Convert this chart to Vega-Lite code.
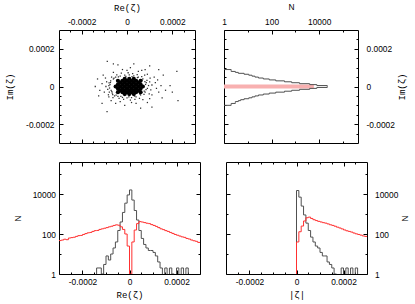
{
"$schema": "https://vega.github.io/schema/vega-lite/v6.json",
"background": "white",
"padding": {"left": 5, "top": 1, "right": 5, "bottom": 2},
"columns": 1,
"align": "none",
"spacing": 17,
"config": {
  "view": {"stroke": "black", "strokeWidth": 1},
  "axis": {"domain": false, "grid": false, "labelFont": "Liberation Sans", "labelFontSize": 8.4, "labelColor": "black", "tickColor": "black", "tickWidth": 1, "titleFont": "Liberation Mono", "titleFontSize": 9, "titleFontWeight": "normal", "titleColor": "black", "labelOverlap": false, "labelFlush": false, "labelBound": false}
},
"datasets": {
  "halo": [
    {"re":-7.5e-5,"im":1e-5},{"re":-7e-5,"im":-2e-5},{"re":-8e-5,"im":0.5e-5},{"re":-7.2e-5,"im":3e-5},{"re":-6.5e-5,"im":-3.5e-5},{"re":-6e-5,"im":4e-5},{"re":-5e-5,"im":5e-5},{"re":-4e-5,"im":-5.2e-5},{"re":-3e-5,"im":5.5e-5},{"re":-2e-5,"im":-5.8e-5},
    {"re":-1e-5,"im":6e-5},{"re":0,"im":-6e-5},{"re":1e-5,"im":6.2e-5},{"re":2e-5,"im":-5.9e-5},{"re":3e-5,"im":5.7e-5},{"re":4e-5,"im":-5.5e-5},{"re":5e-5,"im":5e-5},{"re":6e-5,"im":-4.5e-5},{"re":7e-5,"im":4e-5},{"re":8e-5,"im":-3e-5},
    {"re":8.5e-5,"im":2e-5},{"re":9e-5,"im":-1e-5},{"re":9.5e-5,"im":0.5e-5},{"re":8.8e-5,"im":3.2e-5},{"re":-8.5e-5,"im":-1.5e-5},{"re":-7.8e-5,"im":-3e-5},{"re":-6.8e-5,"im":5e-5},{"re":-5.5e-5,"im":-5e-5},{"re":6.5e-5,"im":5.2e-5},{"re":7.5e-5,"im":-4.2e-5},
    {"re":10e-5,"im":2.5e-5},{"re":10.5e-5,"im":-1.8e-5},{"re":-3.5e-5,"im":-6.3e-5},{"re":2.5e-5,"im":6.8e-5},{"re":-1.5e-5,"im":-6.8e-5},{"re":4.5e-5,"im":6.3e-5},{"re":-9e-5,"im":2.5e-5},{"re":11e-5,"im":0.8e-5},{"re":-4.5e-5,"im":6.2e-5},{"re":3.5e-5,"im":-6.8e-5},
    {"re":-8.2e-5,"im":-4.4e-5},{"re":-6.2e-5,"im":-5.9e-5},{"re":0.5e-5,"im":7.3e-5},{"re":5.5e-5,"im":-6.3e-5},{"re":9.8e-5,"im":-3.9e-5},{"re":-9.3e-5,"im":0},{"re":7.8e-5,"im":6e-5},{"re":-2.5e-5,"im":7.1e-5},{"re":1.5e-5,"im":-7.2e-5},{"re":10.2e-5,"im":4.4e-5},
    {"re":-7.7e-5,"im":-0.8e-5},{"re":-7.3e-5,"im":2.1e-5},{"re":-6.7e-5,"im":-2.7e-5},{"re":-5.7e-5,"im":4.4e-5},{"re":-4.8e-5,"im":-4.6e-5},{"re":-3.8e-5,"im":5.1e-5},{"re":-2.7e-5,"im":-5.3e-5},{"re":-0.5e-5,"im":5.4e-5},{"re":0.8e-5,"im":-5.5e-5},{"re":2.2e-5,"im":5.3e-5},
    {"re":3.4e-5,"im":-5.1e-5},{"re":4.6e-5,"im":4.7e-5},{"re":5.7e-5,"im":-4.1e-5},{"re":6.6e-5,"im":3.4e-5},{"re":7.6e-5,"im":-2.4e-5},{"re":8.2e-5,"im":1.1e-5},{"re":8.4e-5,"im":-1.6e-5},{"re":7.9e-5,"im":2.6e-5},{"re":-6.3e-5,"im":-4.3e-5},{"re":-7.9e-5,"im":1.9e-5},
    {"re":-10e-5,"im":-3e-5},{"re":-11e-5,"im":1.5e-5},{"re":-9.5e-5,"im":4.5e-5},{"re":-8e-5,"im":-5.5e-5},{"re":-6e-5,"im":7.5e-5},{"re":-3e-5,"im":-8e-5},{"re":0,"im":8.5e-5},{"re":2e-5,"im":-8.5e-5},{"re":5e-5,"im":8e-5},{"re":7e-5,"im":-7e-5},
    {"re":9e-5,"im":6.5e-5},{"re":11e-5,"im":-4.5e-5},{"re":12.5e-5,"im":2e-5},{"re":13e-5,"im":-1e-5},{"re":12e-5,"im":5e-5},{"re":10e-5,"im":-6.5e-5},{"re":-12e-5,"im":-2e-5},{"re":-10.5e-5,"im":6e-5},{"re":-7e-5,"im":-7.5e-5},{"re":-2e-5,"im":9e-5},
    {"re":4e-5,"im":-9e-5},{"re":6.5e-5,"im":8.5e-5},{"re":13.5e-5,"im":3.5e-5},{"re":14e-5,"im":-3e-5},{"re":-1e-5,"im":-10e-5},{"re":1.5e-5,"im":10e-5},{"re":8e-5,"im":9e-5},{"re":9e-5,"im":-8.5e-5},{"re":-5e-5,"im":-9e-5},{"re":15e-5,"im":0.5e-5},
    {"re":-13e-5,"im":4e-5},{"re":-12.5e-5,"im":-5e-5},{"re":-8.7e-5,"im":13.4e-5},{"re":-8.8e-5,"im":-13.3e-5},{"re":-4e-5,"im":11.5e-5},{"re":3e-5,"im":12e-5},{"re":10e-5,"im":11e-5},{"re":16e-5,"im":6e-5},{"re":17e-5,"im":-2e-5},{"re":15.5e-5,"im":-6e-5},
    {"re":-14e-5,"im":0},{"re":6e-5,"im":-11.5e-5},{"re":20e-5,"im":-3e-5},{"re":22e-5,"im":8e-5},{"re":22.5e-5,"im":-7.5e-5},{"re":19e-5,"im":0.5e-5},{"re":-11e-5,"im":-9e-5},{"re":11e-5,"im":-11e-5},{"re":14e-5,"im":9e-5},{"re":-6e-5,"im":12e-5}
  ],
  "core": [
    {"re":-5e-5,"im":0},{"re":-3e-5,"im":0},{"re":-1e-5,"im":0},{"re":1e-5,"im":0},{"re":3e-5,"im":0},{"re":5e-5,"im":0},{"re":7e-5,"im":0},
    {"re":-3e-5,"im":2e-5},{"re":-1e-5,"im":2e-5},{"re":1e-5,"im":2e-5},{"re":3e-5,"im":2e-5},{"re":5e-5,"im":2e-5},
    {"re":-3e-5,"im":-2e-5},{"re":-1e-5,"im":-2e-5},{"re":1e-5,"im":-2e-5},{"re":3e-5,"im":-2e-5},{"re":5e-5,"im":-2e-5},
    {"re":-1e-5,"im":4e-5},{"re":1e-5,"im":4e-5},{"re":3e-5,"im":4e-5},{"re":-1e-5,"im":-4e-5},{"re":1e-5,"im":-4e-5},{"re":3e-5,"im":-4e-5},
    {"re":-4e-5,"im":1e-5},{"re":-2e-5,"im":1e-5},{"re":0,"im":1e-5},{"re":2e-5,"im":1e-5},{"re":4e-5,"im":1e-5},{"re":6e-5,"im":1e-5},
    {"re":-4e-5,"im":-1e-5},{"re":-2e-5,"im":-1e-5},{"re":0,"im":-1e-5},{"re":2e-5,"im":-1e-5},{"re":4e-5,"im":-1e-5},{"re":6e-5,"im":-1e-5},
    {"re":-4e-5,"im":3e-5},{"re":-2e-5,"im":3e-5},{"re":0,"im":3e-5},{"re":2e-5,"im":3e-5},{"re":4e-5,"im":3e-5},{"re":6e-5,"im":3e-5},
    {"re":-4e-5,"im":-3e-5},{"re":-2e-5,"im":-3e-5},{"re":0,"im":-3e-5},{"re":2e-5,"im":-3e-5},{"re":4e-5,"im":-3e-5},{"re":6e-5,"im":-3e-5}
  ],
  "tr_red": [{"n0":1,"n":6000,"lo":-1.05e-5,"hi":1.05e-5}],
  "tr_gray": [
    {"im":-10.5e-5,"n":0.1},{"im":-10e-5,"n":2},{"im":-9.5e-5,"n":2},{"im":-9e-5,"n":3},{"im":-8.5e-5,"n":3},{"im":-8e-5,"n":4},{"im":-7.5e-5,"n":5},{"im":-7e-5,"n":7},{"im":-6.5e-5,"n":11},{"im":-6e-5,"n":15},
    {"im":-5.5e-5,"n":20},{"im":-5e-5,"n":28},{"im":-4.5e-5,"n":45},{"im":-4e-5,"n":80},{"im":-3.5e-5,"n":150},{"im":-3e-5,"n":350},{"im":-2.5e-5,"n":700},{"im":-2e-5,"n":1500},{"im":-1.5e-5,"n":4000},{"im":-1e-5,"n":8000},
    {"im":-0.5e-5,"n":22000},{"im":0,"n":22000},{"im":0.5e-5,"n":8000},{"im":1e-5,"n":4000},{"im":1.5e-5,"n":1500},{"im":2e-5,"n":700},{"im":2.5e-5,"n":350},{"im":3e-5,"n":150},{"im":3.5e-5,"n":80},{"im":4e-5,"n":45},
    {"im":4.5e-5,"n":28},{"im":5e-5,"n":20},{"im":5.5e-5,"n":15},{"im":6e-5,"n":11},{"im":6.5e-5,"n":7},{"im":7e-5,"n":4},{"im":7.5e-5,"n":3},{"im":8e-5,"n":2},{"im":8.5e-5,"n":2},{"im":9e-5,"n":0.1},{"im":9.5e-5,"n":0.1}
  ],
  "bl_gray": [
    {"re":-16e-5,"n":0.1},{"re":-15e-5,"n":0.1},{"re":-14e-5,"n":2},{"re":-13e-5,"n":2},{"re":-12e-5,"n":1},{"re":-11e-5,"n":3},{"re":-10e-5,"n":8},{"re":-9e-5,"n":5},{"re":-8e-5,"n":10},{"re":-7e-5,"n":20},
    {"re":-6e-5,"n":40},{"re":-5e-5,"n":150},{"re":-4e-5,"n":400},{"re":-3e-5,"n":1200},{"re":-2e-5,"n":3500},{"re":-1e-5,"n":9000},{"re":0,"n":16000},{"re":1e-5,"n":5000},{"re":2e-5,"n":1500},{"re":3e-5,"n":500},
    {"re":4e-5,"n":150},{"re":5e-5,"n":60},{"re":6e-5,"n":30},{"re":7e-5,"n":20},{"re":8e-5,"n":15},{"re":9e-5,"n":15},{"re":10e-5,"n":12},{"re":11e-5,"n":8},{"re":12e-5,"n":4},{"re":13e-5,"n":2},
    {"re":14e-5,"n":0.1},{"re":15e-5,"n":2},{"re":16e-5,"n":0.1},{"re":17e-5,"n":2},{"re":18e-5,"n":1},{"re":19e-5,"n":0.1},{"re":20e-5,"n":2},{"re":21e-5,"n":0.1},{"re":22e-5,"n":2},{"re":23e-5,"n":0.1},
    {"re":24e-5,"n":2},{"re":25e-5,"n":0.1},{"re":26e-5,"n":0.1}
  ],
  "bl_red": [
    {"re":-30e-5,"n":47},{"re":-29e-5,"n":50},{"re":-28e-5,"n":55},{"re":-27e-5,"n":52},{"re":-26e-5,"n":63},{"re":-25e-5,"n":66},{"re":-24e-5,"n":69},{"re":-23e-5,"n":76},{"re":-22e-5,"n":83},{"re":-21e-5,"n":85},
    {"re":-20e-5,"n":95},{"re":-19e-5,"n":105},{"re":-18e-5,"n":115},{"re":-17e-5,"n":120},{"re":-16e-5,"n":135},{"re":-15e-5,"n":148},{"re":-14e-5,"n":151},{"re":-13e-5,"n":170},{"re":-12e-5,"n":182},{"re":-11e-5,"n":195},
    {"re":-10e-5,"n":209},{"re":-9e-5,"n":229},{"re":-8e-5,"n":245},{"re":-7e-5,"n":269},{"re":-6e-5,"n":288},{"re":-5e-5,"n":275},{"re":-4e-5,"n":229},{"re":-3e-5,"n":170},{"re":-2e-5,"n":100},{"re":-1e-5,"n":25},
    {"re":0,"n":1},{"re":1e-5,"n":40},{"re":2e-5,"n":158},{"re":3e-5,"n":331},{"re":4e-5,"n":417},{"re":5e-5,"n":398},{"re":6e-5,"n":372},{"re":7e-5,"n":347},{"re":8e-5,"n":331},{"re":9e-5,"n":295},
    {"re":10e-5,"n":269},{"re":11e-5,"n":240},{"re":12e-5,"n":209},{"re":13e-5,"n":182},{"re":14e-5,"n":166},{"re":15e-5,"n":148},{"re":16e-5,"n":135},{"re":17e-5,"n":120},{"re":18e-5,"n":107},{"re":19e-5,"n":95},
    {"re":20e-5,"n":87},{"re":21e-5,"n":79},{"re":22e-5,"n":72},{"re":23e-5,"n":68},{"re":24e-5,"n":60},{"re":25e-5,"n":56},{"re":26e-5,"n":50},{"re":27e-5,"n":46},{"re":28e-5,"n":43},{"re":29e-5,"n":38},
    {"re":30e-5,"n":38}
  ],
  "br_gray": [
    {"a":-1e-5,"n":0.1},{"a":0,"n":15000},{"a":1e-5,"n":7000},{"a":2e-5,"n":2500},{"a":3e-5,"n":900},{"a":4e-5,"n":350},{"a":5e-5,"n":150},{"a":6e-5,"n":70},{"a":7e-5,"n":40},{"a":8e-5,"n":25},
    {"a":9e-5,"n":20},{"a":10e-5,"n":12},{"a":11e-5,"n":8},{"a":12e-5,"n":8},{"a":13e-5,"n":4},{"a":14e-5,"n":3},{"a":15e-5,"n":2},{"a":16e-5,"n":1},{"a":17e-5,"n":0.1},{"a":18e-5,"n":0.1},
    {"a":19e-5,"n":2},{"a":20e-5,"n":0.1},{"a":21e-5,"n":2},{"a":22e-5,"n":0.1},{"a":23e-5,"n":2},{"a":24e-5,"n":0.1},{"a":25e-5,"n":2},{"a":26e-5,"n":0.1},{"a":27e-5,"n":0.1}
  ],
  "br_red": [
    {"a":-1e-5,"n":0.1},{"a":0,"n":40},{"a":1e-5,"n":130},{"a":2e-5,"n":250},{"a":3e-5,"n":450},{"a":4e-5,"n":650},{"a":5e-5,"n":700},{"a":6e-5,"n":600},{"a":7e-5,"n":520},{"a":8e-5,"n":470},
    {"a":9e-5,"n":430},{"a":10e-5,"n":400},{"a":11e-5,"n":370},{"a":12e-5,"n":350},{"a":13e-5,"n":320},{"a":14e-5,"n":290},{"a":15e-5,"n":270},{"a":16e-5,"n":245},{"a":17e-5,"n":220},{"a":18e-5,"n":200},
    {"a":19e-5,"n":180},{"a":20e-5,"n":160},{"a":21e-5,"n":145},{"a":22e-5,"n":135},{"a":23e-5,"n":125},{"a":24e-5,"n":112},{"a":25e-5,"n":102},{"a":26e-5,"n":95},{"a":27e-5,"n":88},{"a":28e-5,"n":80},
    {"a":29e-5,"n":76},{"a":30e-5,"n":76}
  ]
},
"concat": [
  {
    "spacing": 25,
    "hconcat": [
      {
        "width": 136, "height": 113,
        "resolve": {"axis": {"x": "independent", "y": "independent"}},
        "layer": [
          {
            "data": {"name": "halo"},
            "mark": {"type": "point", "shape": "square", "filled": true, "size": 1.6, "color": "#303030", "opacity": 1, "clip": true},
            "encoding": {
              "x": {"field": "re", "type": "quantitative", "scale": {"domain": [-0.0003, 0.0003], "nice": false, "zero": false},
                    "axis": {"orient": "top", "values": [-0.00025,-0.0002,-0.00015,-0.0001,-0.00005,0,0.00005,0.0001,0.00015,0.0002,0.00025],
                             "labelExpr": "abs(datum.value*5000-round(datum.value*5000))<0.001 ? (datum.value<0 ? '-' : '') + format(abs(datum.value),'~g') : ''",
                             "tickSize": {"condition": {"test": "abs(datum.value*5000-round(datum.value*5000))<0.001", "value": -4}, "value": -2},
                             "labelPadding": 8, "title": "Re(ζ)", "titlePadding": 3}},
              "y": {"field": "im", "type": "quantitative", "scale": {"domain": [-0.0003, 0.0003], "nice": false, "zero": false},
                    "axis": {"orient": "left", "values": [-0.00025,-0.0002,-0.00015,-0.0001,-0.00005,0,0.00005,0.0001,0.00015,0.0002,0.00025],
                             "labelExpr": "abs(datum.value*5000-round(datum.value*5000))<0.001 ? (datum.value<0 ? '-' : '') + format(abs(datum.value),'~g') : ''",
                             "tickSize": {"condition": {"test": "abs(datum.value*5000-round(datum.value*5000))<0.001", "value": -4}, "value": -2},
                             "labelPadding": 9, "title": "Im(ζ)", "titlePadding": 11}}
            }
          },
          {
            "data": {"name": "core"},
            "mark": {"type": "point", "shape": "circle", "filled": true, "size": 18, "color": "black", "opacity": 1, "clip": true},
            "encoding": {
              "x": {"field": "re", "type": "quantitative", "scale": {"domain": [-0.0003, 0.0003], "nice": false, "zero": false},
                    "axis": {"orient": "bottom", "values": [-0.00025,-0.0002,-0.00015,-0.0001,-0.00005,0,0.00005,0.0001,0.00015,0.0002,0.00025], "labels": false, "title": null,
                             "tickSize": {"condition": {"test": "abs(datum.value*5000-round(datum.value*5000))<0.001", "value": -4}, "value": -2}}},
              "y": {"field": "im", "type": "quantitative", "scale": {"domain": [-0.0003, 0.0003], "nice": false, "zero": false},
                    "axis": {"orient": "right", "values": [-0.00025,-0.0002,-0.00015,-0.0001,-0.00005,0,0.00005,0.0001,0.00015,0.0002,0.00025], "labels": false, "title": null,
                             "tickSize": {"condition": {"test": "abs(datum.value*5000-round(datum.value*5000))<0.001", "value": -4}, "value": -2}}}
            }
          },
          {
            "mark": {"type": "rule", "color": "#ff0000", "strokeWidth": 1.2},
            "encoding": {"y": {"datum": 0, "type": "quantitative", "axis": null}}
          }
        ]
      },
      {
        "width": 134, "height": 113,
        "resolve": {"axis": {"x": "independent", "y": "independent"}},
        "layer": [
          {
            "data": {"name": "tr_red"},
            "mark": {"type": "rect", "color": "#f8b0b0", "clip": true},
            "encoding": {
              "x": {"field": "n0", "type": "quantitative", "scale": {"type": "log", "domain": [1, 430000], "nice": false},
                    "axis": {"orient": "top", "values": [1,10,100,1000,10000,100000],
                             "labelExpr": "round(log(datum.value)/LN10)%2==0 ? format(datum.value,'d') : ''",
                             "tickSize": {"condition": {"test": "round(log(datum.value)/LN10)%2==0", "value": -4}, "value": -2},
                             "labelPadding": 8, "title": "N", "titleFont": "Liberation Sans", "titleFontSize": 8.4, "titlePadding": 4}},
              "x2": {"field": "n"},
              "y": {"field": "lo", "type": "quantitative", "scale": {"domain": [-0.0003, 0.0003], "nice": false, "zero": false},
                    "axis": {"orient": "right", "values": [-0.00025,-0.0002,-0.00015,-0.0001,-0.00005,0,0.00005,0.0001,0.00015,0.0002,0.00025],
                             "labelExpr": "abs(datum.value*5000-round(datum.value*5000))<0.001 ? (datum.value<0 ? '-' : '') + format(abs(datum.value),'~g') : ''",
                             "tickSize": {"condition": {"test": "abs(datum.value*5000-round(datum.value*5000))<0.001", "value": -4}, "value": -2},
                             "labelPadding": 12, "title": "Im(ζ)", "titleAngle": 270, "titlePadding": 12}},
              "y2": {"field": "hi"}
            }
          },
          {
            "data": {"name": "tr_gray"},
            "mark": {"type": "line", "interpolate": "step-before", "color": "#505050", "strokeWidth": 1, "clip": true},
            "encoding": {
              "x": {"field": "n", "type": "quantitative", "scale": {"type": "log", "domain": [1, 430000], "nice": false},
                    "axis": {"orient": "bottom", "values": [1,10,100,1000,10000,100000], "labels": false, "title": null,
                             "tickSize": {"condition": {"test": "round(log(datum.value)/LN10)%2==0", "value": -4}, "value": -2}}},
              "y": {"field": "im", "type": "quantitative", "scale": {"domain": [-0.0003, 0.0003], "nice": false, "zero": false},
                    "axis": {"orient": "left", "values": [-0.00025,-0.0002,-0.00015,-0.0001,-0.00005,0,0.00005,0.0001,0.00015,0.0002,0.00025], "labels": false, "title": null,
                             "tickSize": {"condition": {"test": "abs(datum.value*5000-round(datum.value*5000))<0.001", "value": -4}, "value": -2}}},
              "order": {"field": "im", "type": "quantitative"}
            }
          }
        ]
      }
    ]
  },
  {
    "spacing": 24,
    "hconcat": [
      {
        "width": 141, "height": 112,
        "resolve": {"axis": {"x": "independent", "y": "independent"}},
        "layer": [
          {
            "data": {"name": "bl_gray"},
            "mark": {"type": "line", "interpolate": "step-after", "color": "#505050", "strokeWidth": 1, "clip": true},
            "encoding": {
              "x": {"field": "re", "type": "quantitative", "scale": {"domain": [-0.0003, 0.0003], "nice": false, "zero": false},
                    "axis": {"orient": "bottom", "values": [-0.00025,-0.0002,-0.00015,-0.0001,-0.00005,0,0.00005,0.0001,0.00015,0.0002,0.00025],
                             "labelExpr": "abs(datum.value*5000-round(datum.value*5000))<0.001 ? (datum.value<0 ? '-' : '') + format(abs(datum.value),'~g') : ''",
                             "tickSize": {"condition": {"test": "abs(datum.value*5000-round(datum.value*5000))<0.001", "value": -4}, "value": -2},
                             "labelPadding": 7.5, "title": "Re(ζ)", "titlePadding": 3}},
              "y": {"field": "n", "type": "quantitative", "scale": {"type": "log", "domain": [1, 400000], "nice": false},
                    "axis": {"orient": "left", "values": [1,10,100,1000,10000,100000],
                             "labelExpr": "round(log(datum.value)/LN10)%2==0 ? format(datum.value,'d') : ''",
                             "tickSize": {"condition": {"test": "round(log(datum.value)/LN10)%2==0", "value": -4}, "value": -2},
                             "labelPadding": 7.5, "title": "N", "titleFont": "Liberation Sans", "titleFontSize": 8.4, "titlePadding": 10}}
            }
          },
          {
            "data": {"name": "bl_red"},
            "mark": {"type": "line", "interpolate": "step-after", "color": "#ff3030", "strokeWidth": 1, "clip": true},
            "encoding": {
              "x": {"field": "re", "type": "quantitative", "scale": {"domain": [-0.0003, 0.0003], "nice": false, "zero": false},
                    "axis": {"orient": "top", "values": [-0.00025,-0.0002,-0.00015,-0.0001,-0.00005,0,0.00005,0.0001,0.00015,0.0002,0.00025], "labels": false, "title": null,
                             "tickSize": {"condition": {"test": "abs(datum.value*5000-round(datum.value*5000))<0.001", "value": -4}, "value": -2}}},
              "y": {"field": "n", "type": "quantitative", "scale": {"type": "log", "domain": [1, 400000], "nice": false},
                    "axis": {"orient": "right", "values": [1,10,100,1000,10000,100000], "labels": false, "title": null,
                             "tickSize": {"condition": {"test": "round(log(datum.value)/LN10)%2==0", "value": -4}, "value": -2}}}
            }
          }
        ]
      },
      {
        "width": 141, "height": 112,
        "resolve": {"axis": {"x": "independent", "y": "independent"}},
        "layer": [
          {
            "data": {"name": "br_gray"},
            "mark": {"type": "line", "interpolate": "step-after", "color": "#505050", "strokeWidth": 1, "clip": true},
            "encoding": {
              "x": {"field": "a", "type": "quantitative", "scale": {"domain": [-0.0003, 0.0003], "nice": false, "zero": false},
                    "axis": {"orient": "bottom", "values": [-0.00025,-0.0002,-0.00015,-0.0001,-0.00005,0,0.00005,0.0001,0.00015,0.0002,0.00025],
                             "labelExpr": "abs(datum.value*5000-round(datum.value*5000))<0.001 ? (datum.value<0 ? '-' : '') + format(abs(datum.value),'~g') : ''",
                             "tickSize": {"condition": {"test": "abs(datum.value*5000-round(datum.value*5000))<0.001", "value": -4}, "value": -2},
                             "labelPadding": 7.5, "title": "|ζ|", "titlePadding": 3}},
              "y": {"field": "n", "type": "quantitative", "scale": {"type": "log", "domain": [1, 400000], "nice": false},
                    "axis": {"orient": "right", "values": [1,10,100,1000,10000,100000],
                             "labelExpr": "round(log(datum.value)/LN10)%2==0 ? format(datum.value,'d') : ''",
                             "tickSize": {"condition": {"test": "round(log(datum.value)/LN10)%2==0", "value": -4}, "value": -2},
                             "labelPadding": 11.5, "title": "N", "titleFont": "Liberation Sans", "titleFontSize": 8.4, "titleAngle": 270, "titlePadding": 12}}
            }
          },
          {
            "data": {"name": "br_red"},
            "mark": {"type": "line", "interpolate": "step-after", "color": "#ff3030", "strokeWidth": 1, "clip": true},
            "encoding": {
              "x": {"field": "a", "type": "quantitative", "scale": {"domain": [-0.0003, 0.0003], "nice": false, "zero": false},
                    "axis": {"orient": "top", "values": [-0.00025,-0.0002,-0.00015,-0.0001,-0.00005,0,0.00005,0.0001,0.00015,0.0002,0.00025], "labels": false, "title": null,
                             "tickSize": {"condition": {"test": "abs(datum.value*5000-round(datum.value*5000))<0.001", "value": -4}, "value": -2}}},
              "y": {"field": "n", "type": "quantitative", "scale": {"type": "log", "domain": [1, 400000], "nice": false},
                    "axis": {"orient": "left", "values": [1,10,100,1000,10000,100000], "labels": false, "title": null,
                             "tickSize": {"condition": {"test": "round(log(datum.value)/LN10)%2==0", "value": -4}, "value": -2}}}
            }
          }
        ]
      }
    ]
  }
]
}
